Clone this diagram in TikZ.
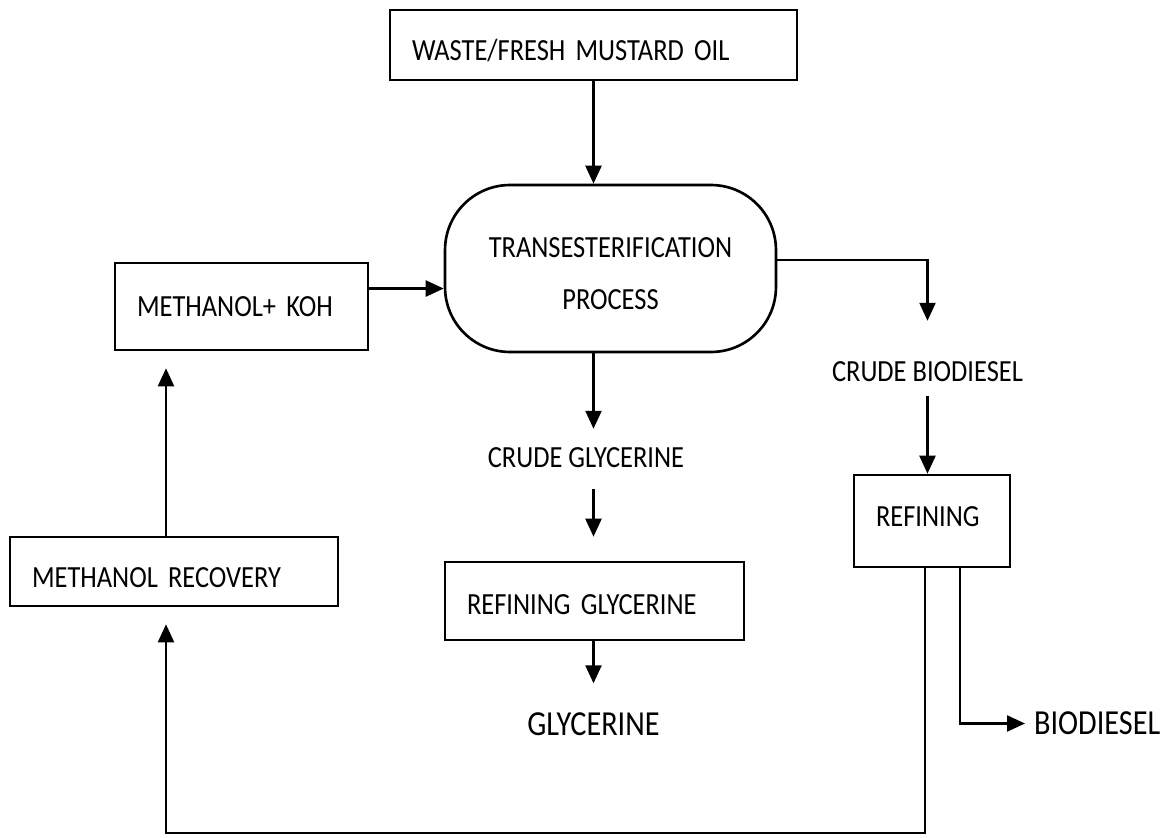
\documentclass[tikz,border=0pt]{standalone}
\usepackage{fontspec}
\setmainfont{Carlito}[FakeStretch=0.86]
\usetikzlibrary{arrows.meta}

\begin{document}
\begin{tikzpicture}[x=0.02cm,y=-0.02cm,line width=1.3pt,
  box/.style={draw,line width=1.5pt,rectangle,align=left,inner xsep=0.44cm,
    font=\fontsize{17.5}{21}\selectfont},
  lbl/.style={inner sep=0pt,font=\fontsize{17.5}{21}\selectfont},
  big/.style={inner sep=0pt,font=\fontsize{20}{24}\selectfont},
  flow/.style={-{Triangle[length=0.36cm,width=0.32cm]}}]
\useasboundingbox (0,0) rectangle (1171,838);

% boxes
\node[box,text width=7.26cm,minimum height=1.4cm] (oil) at (593.5,45) {\rule{0pt}{0.64cm}WASTE/FRESH MUSTARD OIL};
\node[draw,line width=1.5pt,rounded corners=1.3cm,minimum width=6.62cm,minimum height=3.34cm,
  align=center,font=\fontsize{17.5}{21}\selectfont] (proc) at (610.5,268.5)
  {\rule{0pt}{0.6cm}TRANSESTERIFICATION\\[9pt]PROCESS};
\node[box,text width=4.18cm,minimum height=1.74cm] (koh) at (241.5,306.5) {METHANOL+ KOH};
\node[box,text width=5.68cm,minimum height=1.38cm] (rec) at (174,571.5) {\rule{0pt}{0.64cm}METHANOL RECOVERY};
\node[box,text width=2.24cm,minimum height=1.84cm] (ref) at (932,521) {REFINING\rule[-0.16cm]{0pt}{0.16cm}};
\node[box,text width=5.1cm,minimum height=1.56cm] (rgly) at (594.5,601) {\rule{0pt}{0.56cm}REFINING GLYCERINE};

% plain labels
\node[lbl] (cgly) at (586,458) {CRUDE GLYCERINE};
\node[lbl] (cbio) at (927.5,372) {CRUDE BIODIESEL};
\node[big] (gly) at (593.5,724) {GLYCERINE};
\node[big,anchor=west] (bio) at (1033,723.5) {BIODIESEL};

\coordinate (recup) at ([xshift=-0.16cm]rec.north);

% flows
\draw[flow] (oil.south) -- (oil.south |- proc.north);
\draw[flow] (koh.8) -- (koh.8 -| proc.west);
\draw[flow] (proc.south -| oil.south) -- ([yshift=0.36cm]cgly.north -| oil.south);
\draw[flow] ([yshift=-0.4cm]cgly.south -| oil.south) -- ([yshift=0.48cm]rgly.north -| oil.south);
\draw[flow] (rgly.south -| oil.south) -- ([yshift=0.56cm]gly.north -| oil.south);
\draw[flow] (proc.3) -| ([yshift=0.8cm]cbio.north);
\draw[flow] ([yshift=-0.26cm]cbio.south) -- (cbio.south |- ref.north);
\draw[flow] ([xshift=0.56cm]ref.south) |- ([xshift=-0.16cm]bio.west);
\draw[flow] ([xshift=-0.14cm]ref.south) -- ++(0,265) -| ([xshift=-0.16cm,yshift=-0.34cm]rec.south);
\draw[flow] (recup) -- ([yshift=-0.34cm]koh.south -| recup);
\end{tikzpicture}
\end{document}
